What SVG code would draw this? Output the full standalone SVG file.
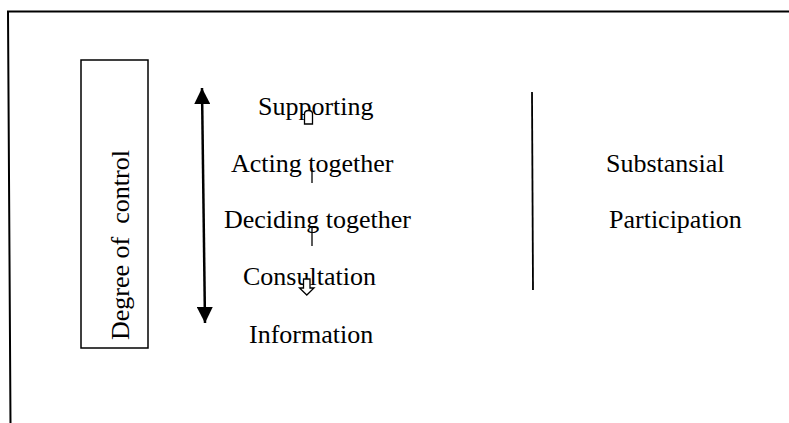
<svg xmlns="http://www.w3.org/2000/svg" width="789" height="423" viewBox="0 0 789 423">
<style>
.t{font-family:"Liberation Serif","Times New Roman",serif;font-size:26px;fill:#000}
.ln{stroke:#000;fill:none}
</style>
<defs>
<marker id="ah" viewBox="0 0 16 16" refX="16" refY="8" markerWidth="16" markerHeight="16" markerUnits="userSpaceOnUse" orient="auto-start-reverse">
<path d="M0,0 L16,8 L0,16 Z" fill="#000"/>
</marker>
</defs>
<rect width="789" height="423" fill="#fff"/>
<g id="frame">
<path class="ln" d="M10.5,423 L8,11.5 L789,11.5" stroke-width="2"/>
</g>
<g id="degree-box">
<rect class="ln" x="81" y="60" width="67" height="288" stroke-width="1.5"/>
<text class="t" transform="translate(129,340) rotate(-90)" xml:space="preserve">Degree of  control</text>
</g>
<g id="supporting"><text class="t" x="258" y="115">Supporting</text></g>
<g id="acting-together"><text class="t" x="231" y="172">Acting together</text></g>
<g id="deciding-together"><text class="t" x="224" y="228">Deciding together</text></g>
<g id="consultation"><text class="t" x="243" y="285">Consultation</text></g>
<g id="information"><text class="t" x="249" y="343">Information</text></g>
<g id="substansial"><text class="t" x="606" y="172">Substansial</text></g>
<g id="participation"><text class="t" x="609" y="228">Participation</text></g>
<g id="connectors">
<line class="ln" x1="202" y1="88" x2="205" y2="323" stroke-width="2.5" marker-start="url(#ah)" marker-end="url(#ah)"/>
<line class="ln" x1="532" y1="92" x2="533" y2="290" stroke-width="1.8"/>
<path d="M304.5,124 L304.5,114 Q304.5,110.5 308.5,110.5 Q312.5,110.5 312.5,114 L312.5,124 Z" fill="#fff" stroke="#000" stroke-width="1.3"/>
<line class="ln" x1="312" y1="168" x2="312" y2="183" stroke-width="1.3"/>
<line class="ln" x1="312" y1="227" x2="312" y2="246" stroke-width="1.3"/>
<path d="M303.5,279 L310,279 L310,288 L314,288 L306.8,295 L299.5,288 L303.5,288 Z" fill="#fff" stroke="#000" stroke-width="1.3"/>
</g>
</svg>
